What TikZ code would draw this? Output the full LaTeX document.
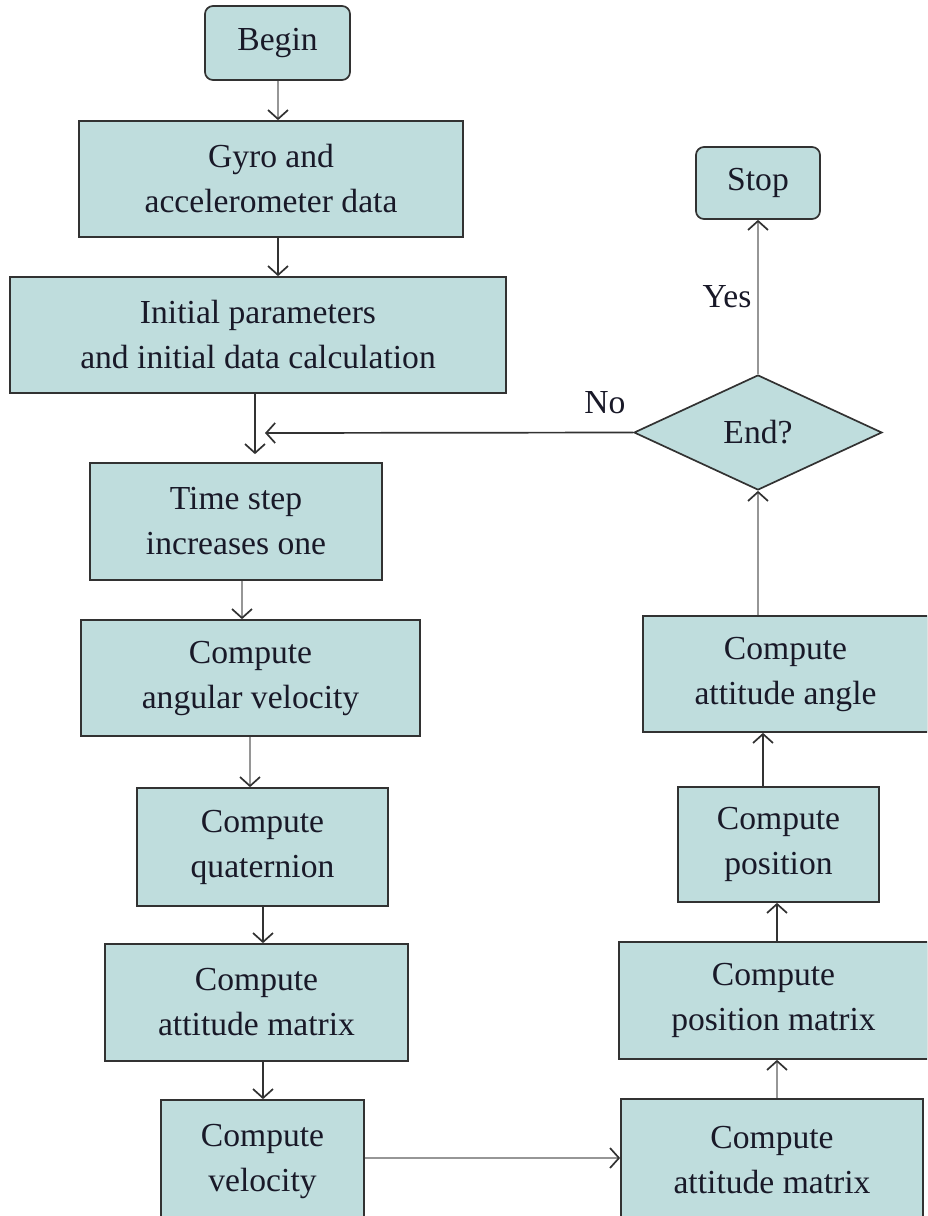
\documentclass[tikz,border=0pt]{standalone}
\usepackage{fontspec}
\setmainfont{Liberation Serif}
\usetikzlibrary{arrows.meta,shapes.geometric}
\definecolor{boxfill}{RGB}{191,221,221}
\definecolor{edgecol}{RGB}{50,50,50}
\definecolor{lightln}{RGB}{150,150,150}
\definecolor{txtcol}{RGB}{25,25,40}
\begin{document}
\begin{tikzpicture}[x=1pt,y=-1pt,
  box/.style={draw=edgecol, line width=1.7pt, fill=boxfill, rectangle, align=center,
    inner sep=0pt, font=\fontsize{33.6}{45}\selectfont, text=txtcol},
  term/.style={box, rounded corners=8pt},
  decis/.style={box, diamond, inner sep=0pt},
  lbl/.style={font=\fontsize{33.6}{45}\selectfont, text=txtcol, inner sep=0pt},
  arr/.style={-{Straight Barb[length=9pt,width=20pt,line width=1.7pt,color=edgecol]}, line width=1.7pt, draw=edgecol},
  garr/.style={arr, draw=lightln}]
\useasboundingbox (0,0) rectangle (927,1216);
\clip (0,0) rectangle (927,1216);
% left column
\node[term, minimum width=145pt, minimum height=74pt] (begin) at (277.5,43) {Begin};
\node[box, minimum width=384pt, minimum height=116pt] (gyro) at (271,179) {Gyro and\\accelerometer data};
\node[box, minimum width=496pt, minimum height=116pt] (init) at (258,335) {Initial parameters\\and initial data calculation};
\node[box, minimum width=292pt, minimum height=117pt] (time) at (236,521.5) {Time step\\increases one};
\node[box, minimum width=339pt, minimum height=116pt] (angv) at (250.5,678) {Compute\\angular velocity};
\node[box, minimum width=251pt, minimum height=118pt] (quat) at (262.5,847) {Compute\\quaternion};
\node[box, minimum width=303pt, minimum height=117pt] (attL) at (256.5,1002.5) {Compute\\attitude matrix};
\node[box, minimum width=203pt, minimum height=122pt] (vel) at (262.5,1161) {Compute\\velocity};
% right column
\node[box, minimum width=302pt, minimum height=123pt] (attR) at (772,1160.5) {Compute\\attitude matrix};
\node[box, minimum width=309pt, minimum height=117pt] (posm) at (773.5,1000.5) {Compute\\position matrix};
\node[box, minimum width=201pt, minimum height=115pt] (pos) at (778.5,844.5) {Compute\\position};
\node[box, minimum width=285pt, minimum height=116pt] (atta) at (785.5,674) {Compute\\attitude angle};
\node[decis, minimum width=248pt, minimum height=115pt] (end) at (758,432.5) {End?};
\node[term, minimum width=124pt, minimum height=72pt] (stop) at (758,183) {Stop};
% labels
\node[lbl] (no) at (605,403) {No};
\node[lbl] (yes) at (727,297) {Yes};
\coordinate (ret) at (265,433);
% connectors
\draw[garr] ([xshift=0.5pt]begin.south) -- ([xshift=7pt]gyro.north);
\draw[arr] ([xshift=7pt]gyro.south) -- ([xshift=20pt]init.north);
\draw[arr] ([xshift=-3pt]init.south) -- ([xshift=19pt,yshift=8pt]time.north);
\draw[arr] (end.west) -- (ret);
\draw[garr] ([xshift=6pt]time.south) -- ([xshift=-8.5pt]angv.north);
\draw[garr] ([xshift=-0.5pt]angv.south) -- ([xshift=-12.5pt]quat.north);
\draw[arr] ([xshift=0.5pt]quat.south) -- ([xshift=6.5pt]attL.north);
\draw[arr] ([xshift=6.5pt]attL.south) -- ([xshift=0.5pt]vel.north);
\draw[garr] ([yshift=3pt]vel.east) -- ([yshift=2.5pt]attR.west);
\draw[garr] ([xshift=5pt]attR.north) -- ([xshift=3.5pt]posm.south);
\draw[arr] ([xshift=3.5pt]posm.north) -- ([xshift=-1.5pt]pos.south);
\draw[arr] ([xshift=-15.5pt]pos.north) -- ([xshift=-22.5pt]atta.south);
\draw[garr] ([xshift=-27.5pt]atta.north) -- (end.south);
\draw[garr] (end.north) -- (stop.south);
\end{tikzpicture}
\end{document}
